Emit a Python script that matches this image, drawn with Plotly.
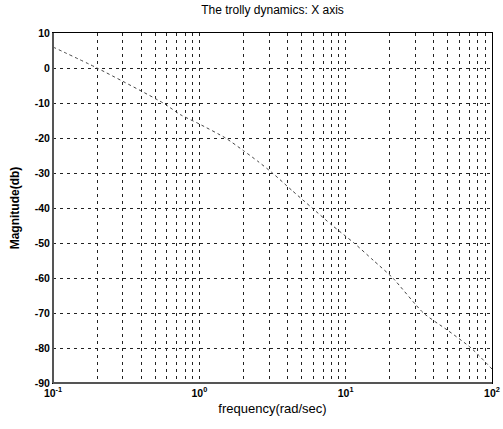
import plotly.graph_objects as go

freq = [0.1, 0.2, 0.566, 0.74, 1.0, 1.51, 2.0, 2.5, 3.16, 4.3, 5.9, 8.0, 11.4, 15.5, 21, 34, 50, 72, 100]
mag = [6, 0, -10, -13.3, -16, -20, -23.6, -26.6, -30, -35, -40, -44.8, -50, -55, -60, -70, -75, -80, -86]

decades = [0.1, 1, 10, 100]
decade_labels = ["10<sup>-1</sup>", "10<sup>0</sup>", "10<sup>1</sup>", "10<sup>2</sup>"]
y_ticks = [10, 0, -10, -20, -30, -40, -50, -60, -70, -80, -90]
y_labels = ["10", "0", "-10", "-20", "-30", "-40", "-50", "-60", "-70", "-80", "-90"]

xtickvals = []
xticktext = []
for d, lab in zip(decades, decade_labels):
    xtickvals.append(d)
    xticktext.append(lab)
    if d < 100:
        for m in range(2, 10):
            xtickvals.append(d * m)
            xticktext.append("")

fig = go.Figure()
fig.add_trace(go.Scatter(x=freq, y=mag, mode="lines",
                         line=dict(color="#444444", width=1, dash="dot", shape="spline", smoothing=0.6),
                         showlegend=False))

fig.update_layout(
    width=503, height=429,
    margin=dict(l=53, r=11, t=33, b=46),
    paper_bgcolor="white", plot_bgcolor="white",
    font=dict(family="Liberation Sans, Arial, sans-serif", size=11, color="black"),
    title=dict(text="The trolly dynamics: X axis", x=0.5, xref="paper", xanchor="center",
               y=0.977, yanchor="middle", font=dict(size=12)),
)
fig.update_xaxes(
    type="log", range=[-1, 2], automargin=False,
    tickvals=xtickvals, ticktext=xticktext, tickangle=0,
    showgrid=True, gridcolor="#222222", gridwidth=1, griddash="3px,4px",
    showline=True, linecolor="black", linewidth=1, mirror=True,
    ticks="", zeroline=False,
    title=dict(text="frequency(rad/sec)", standoff=6, font=dict(size=13)),
    tickfont=dict(size=10.5, weight="bold"),
)
fig.update_yaxes(
    range=[-90, 10], tickvals=y_ticks, ticktext=y_labels, automargin=False,
    showgrid=True, gridcolor="#222222", gridwidth=1, griddash="3px,4px",
    showline=True, linecolor="black", linewidth=1, mirror=True,
    ticks="", zeroline=False,
    title=dict(text="Magnitude(db)", standoff=12, font=dict(size=12, weight="bold")),
    tickfont=dict(size=10.5, weight="bold"),
)

# heavier left and bottom frame edges as in the reference
fig.add_shape(type="line", xref="paper", yref="paper", x0=0, x1=0, y0=0, y1=1,
              line=dict(color="#555555", width=2))
fig.add_shape(type="line", xref="paper", yref="paper", x0=0, x1=1, y0=0, y1=0,
              line=dict(color="#555555", width=2))

fig.write_html("out.html", config={"displayModeBar": False},
               post_script="document.body.style.margin='0';document.body.style.overflow='hidden';")
